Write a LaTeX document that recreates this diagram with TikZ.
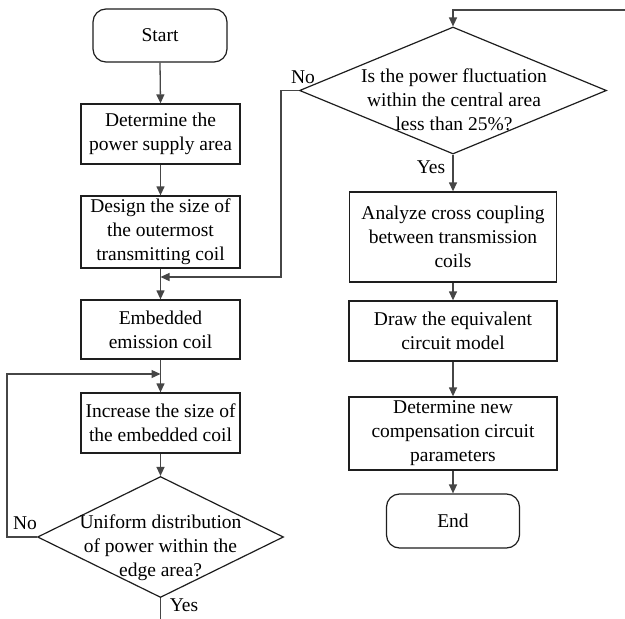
\documentclass[tikz,border=0pt]{standalone}
\usepackage{fontspec}
\setmainfont{Liberation Serif}
\usetikzlibrary{arrows.meta,shapes.geometric}
\definecolor{boxcol}{RGB}{30,30,30}
\definecolor{linecol}{RGB}{70,70,70}
\begin{document}
\begin{tikzpicture}[x=1pt,y=-1pt,
  every node/.style={font=\fontsize{19.5}{24}\selectfont},
  procbox/.style={draw=boxcol,line width=1.3pt,rectangle,inner sep=0pt,align=center},
  termbox/.style={draw=boxcol,line width=1.2pt,rectangle,rounded corners=13pt,inner sep=0pt,align=center},
  decbox/.style={draw=boxcol,line width=1.2pt,diamond,inner sep=0pt},
  conn/.style={draw=linecol,line width=1.3pt},
  arr/.style={conn,-{Triangle[length=9pt,width=8pt]}},
  lbl/.style={inner sep=0pt}]
\useasboundingbox (0,0) rectangle (625,619);
\fill[white] (0,0) rectangle (625,619);

% left column
\node[termbox,minimum width=134pt,minimum height=53pt] (start) at (160,35.5) {Start};
\node[procbox,minimum width=159pt,minimum height=60pt] (b1) at (160.5,134) {Determine the\\power supply area};
\node[procbox,minimum width=159pt,minimum height=72pt] (b2) at (160.5,232) {Design the size of\\the outermost\\transmitting coil};
\node[procbox,minimum width=159pt,minimum height=59pt] (b3) at (160.5,329.5) {Embedded\\emission coil};
\node[procbox,minimum width=159pt,minimum height=60pt] (b4) at (160.5,423) {Increase the size of\\the embedded coil};
\node[decbox,minimum width=246pt,minimum height=121pt] (d1) at (160.5,537) {};
\node[align=center,inner sep=0pt] (d1t) at (160.5,548) {Uniform distribution\\of power within the\\edge area?};

% right column
\node[decbox,minimum width=307pt,minimum height=127pt] (d2) at (453,90.5) {};
\node[align=center,inner sep=0pt] (d2t) at (454,100) {Is the power fluctuation\\within the central area\\less than 25\%?};
\node[procbox,minimum width=207pt,minimum height=90pt] (b5) at (453,237) {Analyze cross coupling\\between transmission\\coils};
\node[procbox,minimum width=208pt,minimum height=60pt] (b6) at (453,331) {Draw the equivalent\\circuit model};
\node[procbox,minimum width=208pt,minimum height=73pt] (b7) at (453,433.5) {Determine new\\compensation circuit\\parameters};
\node[termbox,minimum width=133pt,minimum height=54pt] (end) at (453,521) {End};

% junction coordinates
\coordinate (j1) at (160.5,277);
\coordinate (j2) at (160.5,374);
\coordinate (nol) at (7,537);
\coordinate (nor) at (281,90.5);
\coordinate (topin) at (625,10);
\coordinate (yesend) at (160.5,619);

% labels
\node[lbl] (no1) at (25,523) {No};
\node[lbl] (yes1) at (184,605) {Yes};
\node[lbl] (no2) at (303,77) {No};
\node[lbl] (yes2) at (431,167) {Yes};

% connectors
\draw[arr] (start.south) -- (b1.north);
\draw[arr] (b1.south) -- (b2.north);
\draw[arr] (b2.south) -- (b3.north);
\draw[arr] (b3.south) -- (b4.north);
\draw[arr] (b4.south) -- (d1.north);
\draw[conn] (d1.south) -- (yesend);
\draw[arr] (d1.west) -- (nol) -- (j2 -| nol) -- (j2);
\draw[arr] (d2.west) -- (nor) -- (j1 -| nor) -- (j1);
\draw[arr] (topin) -- (topin -| d2.north) -- (d2.north);
\draw[arr] (d2.south) -- (b5.north);
\draw[arr] (b5.south) -- (b6.north);
\draw[arr] (b6.south) -- (b7.north);
\draw[arr] (b7.south) -- (end.north);
\end{tikzpicture}
\end{document}
